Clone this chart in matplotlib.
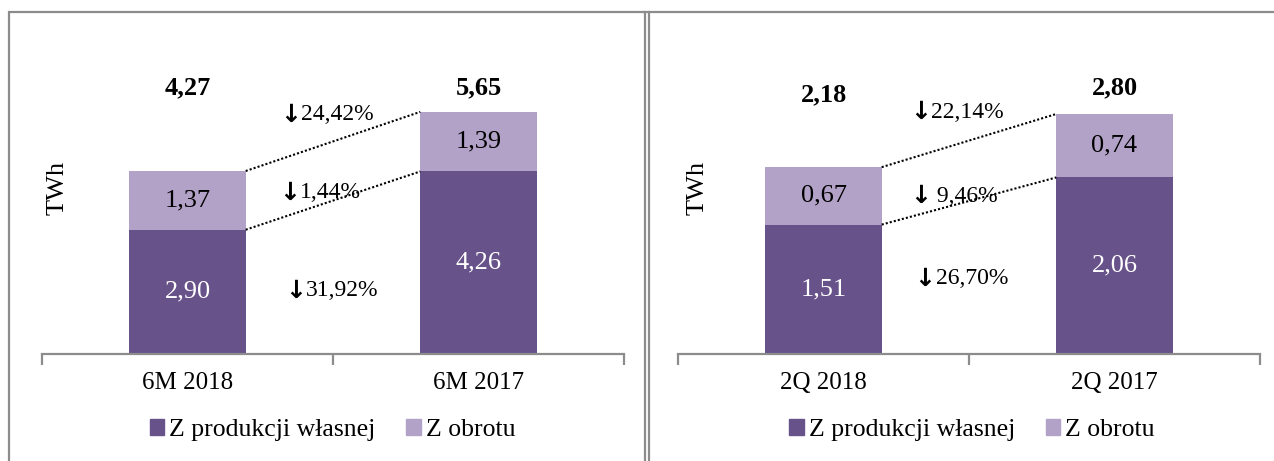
import matplotlib.pyplot as plt
from matplotlib.patches import Rectangle, Patch
from matplotlib.lines import Line2D

plt.rcParams['font.family'] = ['Liberation Serif', 'DejaVu Serif']

# data
cats_6m = ['6M 2018', '6M 2017']
own_6m = [2.90, 4.26]
trade_6m = [1.37, 1.39]
total_6m = ['4,27', '5,65']
pct_6m = ['24,42%', '1,44%', '31,92%']

cats_2q = ['2Q 2018', '2Q 2017']
own_2q = [1.51, 2.06]
trade_2q = [0.67, 0.74]
total_2q = ['2,18', '2,80']
pct_2q = ['22,14%', ' 9,46%', '26,70%']

dark = '#68528A'
light = '#B3A2C7'
grey = '#8C8C8C'

fig = plt.figure(figsize=(12.74, 4.61), dpi=100)

# panel frames
fig.add_artist(Rectangle((9/1274, -0.05), 2, 1 - 12/461 + 0.05, transform=fig.transFigure,
                         fill=False, edgecolor=grey, lw=1.6))
fig.add_artist(Line2D([645/1274, 645/1274], [-0.05, 1 - 12/461], transform=fig.transFigure,
                      color=grey, lw=1.6))
fig.add_artist(Line2D([649/1274, 649/1274], [-0.05, 1 - 12/461], transform=fig.transFigure,
                      color=grey, lw=1.6))


def fmt(v):
    return f'{v:.2f}'.replace('.', ',')


def panel(rect, cats, own, trade, totals, pcts, ymax, total_y, pct_pos):
    ax = fig.add_axes(rect)
    x = [0, 1]
    w = 0.4
    ax.bar(x, own, w, color=dark, label='Z produkcji własnej')
    ax.bar(x, trade, w, bottom=own, color=light, label='Z obrotu')
    tops = [o + t for o, t in zip(own, trade)]
    for i in x:
        ax.text(i, own[i] / 2, fmt(own[i]), ha='center', va='center', color='white', fontsize=19)
        ax.text(i, own[i] + trade[i] / 2, fmt(trade[i]), ha='center', va='center', color='black', fontsize=19)
        ax.text(i, total_y[i], totals[i], ha='center', va='center', fontweight='bold', fontsize=19)
    # dotted connectors
    ax.plot([w / 2, 1 - w / 2], [tops[0], tops[1]], ls=(0, (1, 1)), color='black', lw=1.5)
    ax.plot([w / 2, 1 - w / 2], [own[0], own[1]], ls=(0, (1, 1)), color='black', lw=1.5)
    for (px, py), s in zip(pct_pos, pcts):
        ax.text(px, py, '\u2193', ha='right', va='center', fontsize=18, fontweight='bold',
                family=['DejaVu Sans'])
        ax.text(px, py, s, ha='left', va='center', fontsize=17)
    ax.set_xlim(-0.5, 1.5)
    ax.set_ylim(0, ymax)
    for s in ['top', 'right', 'left']:
        ax.spines[s].set_visible(False)
    ax.spines['bottom'].set_color(grey)
    ax.spines['bottom'].set_linewidth(1.6)
    ax.set_yticks([])
    ax.set_xticks([-0.5, 0.5, 1.5])
    ax.set_xticklabels([])
    ax.tick_params(axis='x', which='major', length=8, width=1.6, color=grey)
    ax.set_xticks(x, minor=True)
    ax.set_xticklabels(cats, minor=True, fontsize=18)
    ax.tick_params(axis='x', which='minor', length=0, pad=13)
    ax.set_ylabel('TWh', fontsize=19)
    return ax


ax1 = panel([42/1274, 107/461, 582/1274, 300/461], cats_6m, own_6m, trade_6m, total_6m, pct_6m,
            7.0, [6.21, 6.21], [(0.39, 5.58), (0.387, 3.76), (0.407, 1.47)])
ax1.yaxis.set_label_coords(0.045, 0.553)
ax2 = panel([678/1274, 107/461, 582/1274, 300/461], cats_2q, own_2q, trade_2q, total_2q, pct_2q,
            3.5, [3.02, 3.10], [(0.37, 2.82), (0.37, 1.84), (0.385, 0.88)])
ax2.yaxis.set_label_coords(0.053, 0.553)

handles = [Patch(color=dark), Patch(color=light)]
labels = ['Z produkcji własnej', 'Z obrotu']
for cx in [0.261, 0.763]:
    fig.legend(handles, labels, loc='center', bbox_to_anchor=(cx, 1 - 430/461), ncol=2,
               frameon=False, fontsize=18.5, handlelength=0.55, handleheight=0.55,
               handletextpad=0.2, columnspacing=1.2)

fig.savefig('out.png', dpi=100)
